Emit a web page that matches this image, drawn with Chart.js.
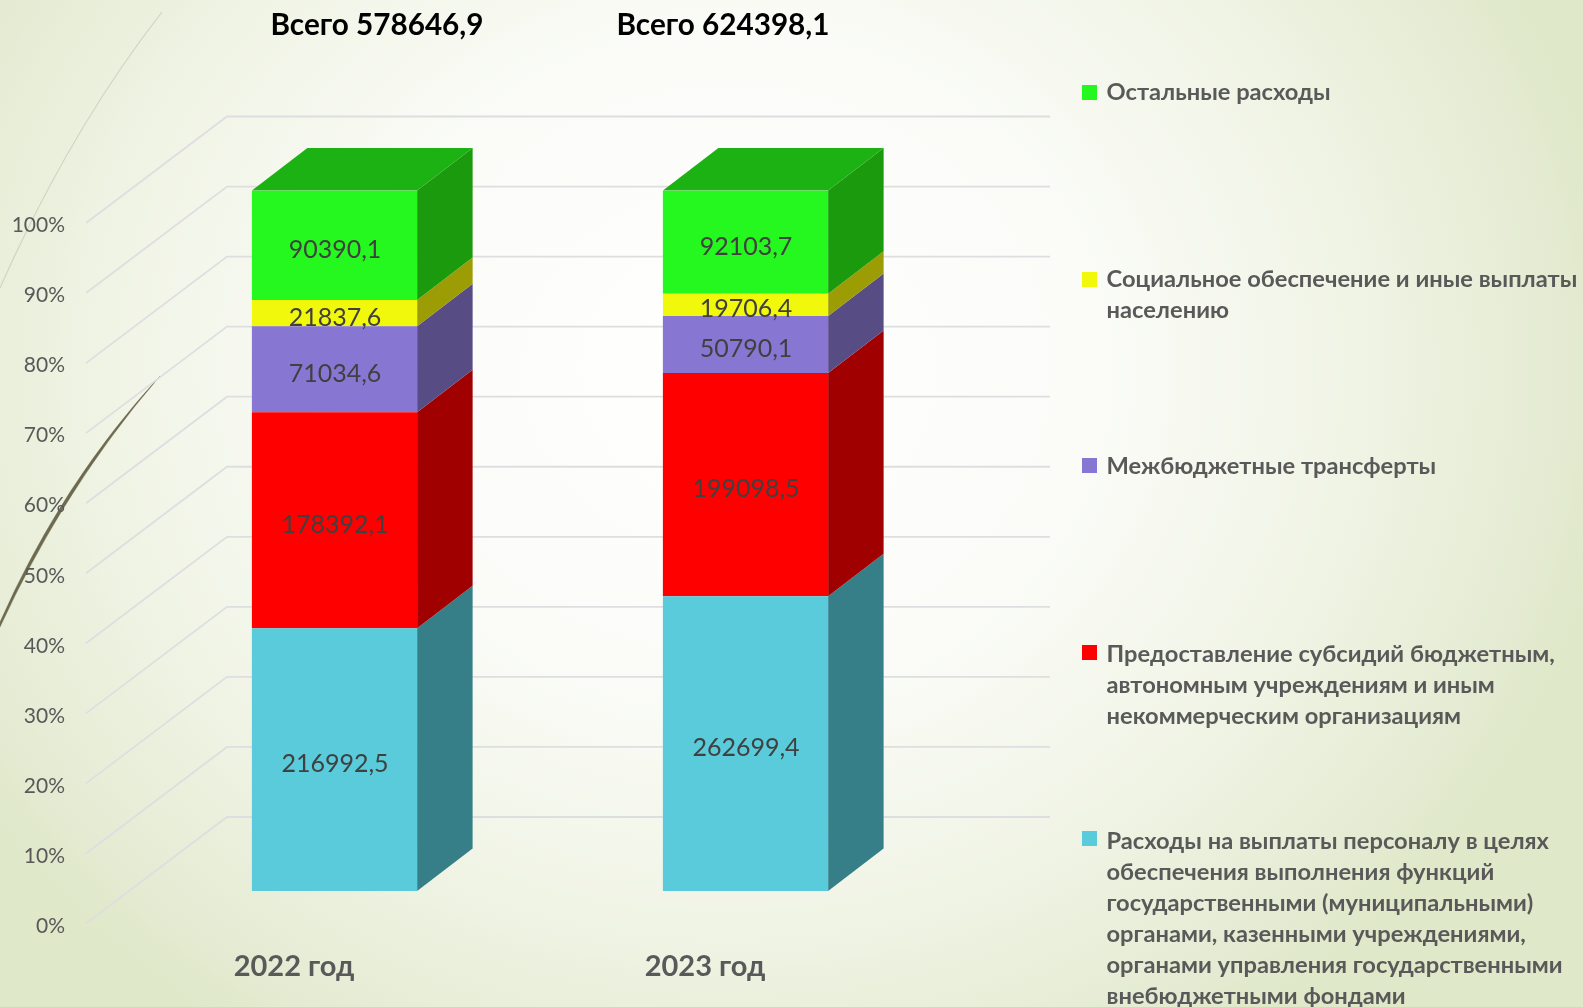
<!DOCTYPE html>
<html lang="ru">
<head>
<meta charset="utf-8">
<title>Расходы 2022-2023</title>
<script src="https://cdn.jsdelivr.net/npm/chart.js@4"></script>
<style>
  html, body { margin: 0; padding: 0; }
  body {
    position: relative; width: 1583px; height: 1007px; overflow: hidden;
    background: radial-gradient(ellipse 900px 800px at 730px 370px, #ffffff 0%, #fbfcf8 40%, #eff3e3 72%, #e4ebd2 92%, #dfe8c8 100%);
    font-family: Lato, "Noto Sans", sans-serif;
  }
  #decor, #chart { position: absolute; left: 0; top: 0; }
  #chart { display: block; }
  .legend-item { position: absolute; left: 1082px; width: 500px; }
  .legend-item i { position: absolute; left: 0; top: 0; width: 15px; height: 15px; }
  .legend-item span {
    position: absolute; left: 24.5px; top: -9px; white-space: pre;
    font-size: 23.7px; line-height: 31px; font-weight: 700; color: #595959;
  }
</style>
</head>
<body>
<svg id="decor" width="1583" height="1007">
  <path d="M162 12 Q70 130 0 288" fill="none" stroke="#d2d2c6" stroke-width="1.2"/>
  <path d="M160 376 Q62 482 0 622 L0 627 Q65 486 160 376 Z" fill="#6e6a4e" stroke="#6e6a4e" stroke-width="0.4"/>
</svg>
<canvas id="chart" width="1583" height="1007"></canvas>
<div id="legend"></div>
<script>
const categories = ['2022 год', '2023 год'];
const totals = [578646.9, 624398.1];
const personnel = [216992.5, 262699.4];
const subsidies = [178392.1, 199098.5];
const transfers = [71034.6, 50790.1];
const social = [21837.6, 19706.4];
const other = [90390.1, 92103.7];

const seriesNames = [
  'Расходы на выплаты персоналу в целях\nобеспечения выполнения функций\nгосударственными (муниципальными)\nорганами, казенными учреждениями,\nорганами управления государственными\nвнебюджетными фондами',
  'Предоставление субсидий бюджетным,\nавтономным учреждениям и иным\nнекоммерческим организациям',
  'Межбюджетные трансферты',
  'Социальное обеспечение и иные выплаты\nнаселению',
  'Остальные расходы'
];
const seriesValues = [personnel, subsidies, transfers, social, other];
const frontColors = ['#59CBDB', '#FF0000', '#8877D2', '#F2F80C', '#25F81E'];
const sideColors = ['#377F88', '#A00000', '#584C84', '#9C9C04', '#1A9A0C'];
const topColor = '#1CB213';

const fontName = 'Lato, "Noto Sans", sans-serif';

// depth of the fake 3D box
const barDepthX = 55.5, barDepthY = -42.5;
// the gridlines start in front of the bars and run to the back wall
const gridFrontX = 86, gridBackX = 227, gridEndX = 1050;
const gridFrontDy = 32.5, gridBackDy = -74;
const totalOffsets = [42.5, -22.5];

function fmt(v) {
  return String(v).replace('.', ',');
}

function poly(ctx, pts, color) {
  ctx.fillStyle = color;
  ctx.beginPath();
  pts.forEach((p, i) => i ? ctx.lineTo(p[0], p[1]) : ctx.moveTo(p[0], p[1]));
  ctx.closePath();
  ctx.fill();
}

const box3d = {
  id: 'box3d',
  beforeDatasetsDraw(chart) {
    const ctx = chart.ctx;
    const yScale = chart.scales.y;
    ctx.save();
    // wall gridlines
    ctx.strokeStyle = '#dedee0';
    ctx.lineWidth = 1.8;
    yScale.ticks.forEach(t => {
      const y = yScale.getPixelForValue(t.value);
      ctx.beginPath();
      ctx.moveTo(gridFrontX, y + gridFrontDy);
      ctx.lineTo(gridBackX, y + gridBackDy);
      ctx.lineTo(gridEndX, y + gridBackDy);
      ctx.stroke();
    });
    // side faces and top of each column
    seriesValues.forEach((_, ds) => {
      chart.getDatasetMeta(ds).data.forEach(bar => {
        const r = bar.x + bar.width / 2;
        poly(ctx, [
          [r, bar.y], [r + barDepthX, bar.y + barDepthY],
          [r + barDepthX, bar.base + barDepthY], [r, bar.base]
        ], sideColors[ds]);
        if (ds === seriesValues.length - 1) {
          const l = bar.x - bar.width / 2;
          poly(ctx, [
            [l, bar.y], [r, bar.y],
            [r + barDepthX, bar.y + barDepthY], [l + barDepthX, bar.y + barDepthY]
          ], topColor);
        }
      });
    });
    ctx.restore();
  },
  afterDatasetsDraw(chart) {
    const ctx = chart.ctx;
    ctx.save();
    ctx.textAlign = 'center';
    ctx.textBaseline = 'middle';
    ctx.font = '25px ' + fontName;
    ctx.fillStyle = '#404040';
    seriesValues.forEach((vals, ds) => {
      chart.getDatasetMeta(ds).data.forEach((bar, i) => {
        ctx.fillText(fmt(vals[i]), bar.x + 0.5, (bar.y + bar.base) / 2 + 4.5);
      });
    });
    // totals above the columns
    ctx.font = 'bold 29.7px ' + fontName;
    ctx.fillStyle = '#000000';
    chart.getDatasetMeta(0).data.forEach((bar, i) => {
      ctx.fillText('Всего ' + fmt(totals[i]), bar.x + totalOffsets[i], 25);
    });
    ctx.restore();
  }
};

// bars are shares of the year's total
const datasets = seriesValues.map((vals, ds) => ({
  label: seriesNames[ds],
  data: vals.map((v, i) => v / totals[i] * 100),
  backgroundColor: frontColors[ds],
  borderWidth: 0,
  barPercentage: 0.402,
  categoryPercentage: 1
}));

new Chart(document.getElementById('chart'), {
  type: 'bar',
  data: { labels: categories, datasets: datasets },
  plugins: [box3d],
  options: {
    responsive: false,
    animation: false,
    layout: { autoPadding: false, padding: { top: 190.5, right: 632, bottom: 0, left: 0 } },
    plugins: { legend: { display: false }, tooltip: { enabled: false } },
    scales: {
      x: {
        stacked: true,
        grid: { display: false, drawTicks: false },
        border: { display: false },
        afterFit: s => { s.height = 116; },
        ticks: {
          color: '#595959',
          padding: 58,
          labelOffset: -40.5,
          maxRotation: 0,
          font: { family: fontName, size: 29, weight: 'bold' }
        }
      },
      y: {
        stacked: true,
        min: 0,
        max: 100,
        grid: { display: false, drawTicks: false },
        border: { display: false },
        afterFit: s => { s.width = 129; },
        ticks: {
          stepSize: 10,
          color: '#595959',
          padding: 64,
          labelOffset: 35,
          font: { family: fontName, size: 21 },
          callback: v => v + '%'
        }
      }
    }
  }
});

// legend, top entry is the last series
const legendTops = [831, 644.5, 458, 272, 85];
const legendTextShift = [3, 2, 1, 0, 0];
const legendBox = document.getElementById('legend');
seriesNames.map((_, i) => i).reverse().forEach(i => {
  const item = document.createElement('div');
  item.className = 'legend-item';
  item.style.top = legendTops[i] + 'px';
  const swatch = document.createElement('i');
  swatch.style.background = frontColors[i];
  const text = document.createElement('span');
  text.textContent = seriesNames[i];
  text.style.marginTop = legendTextShift[i] + 'px';
  item.appendChild(swatch);
  item.appendChild(text);
  legendBox.appendChild(item);
});
</script>
</body>
</html>
